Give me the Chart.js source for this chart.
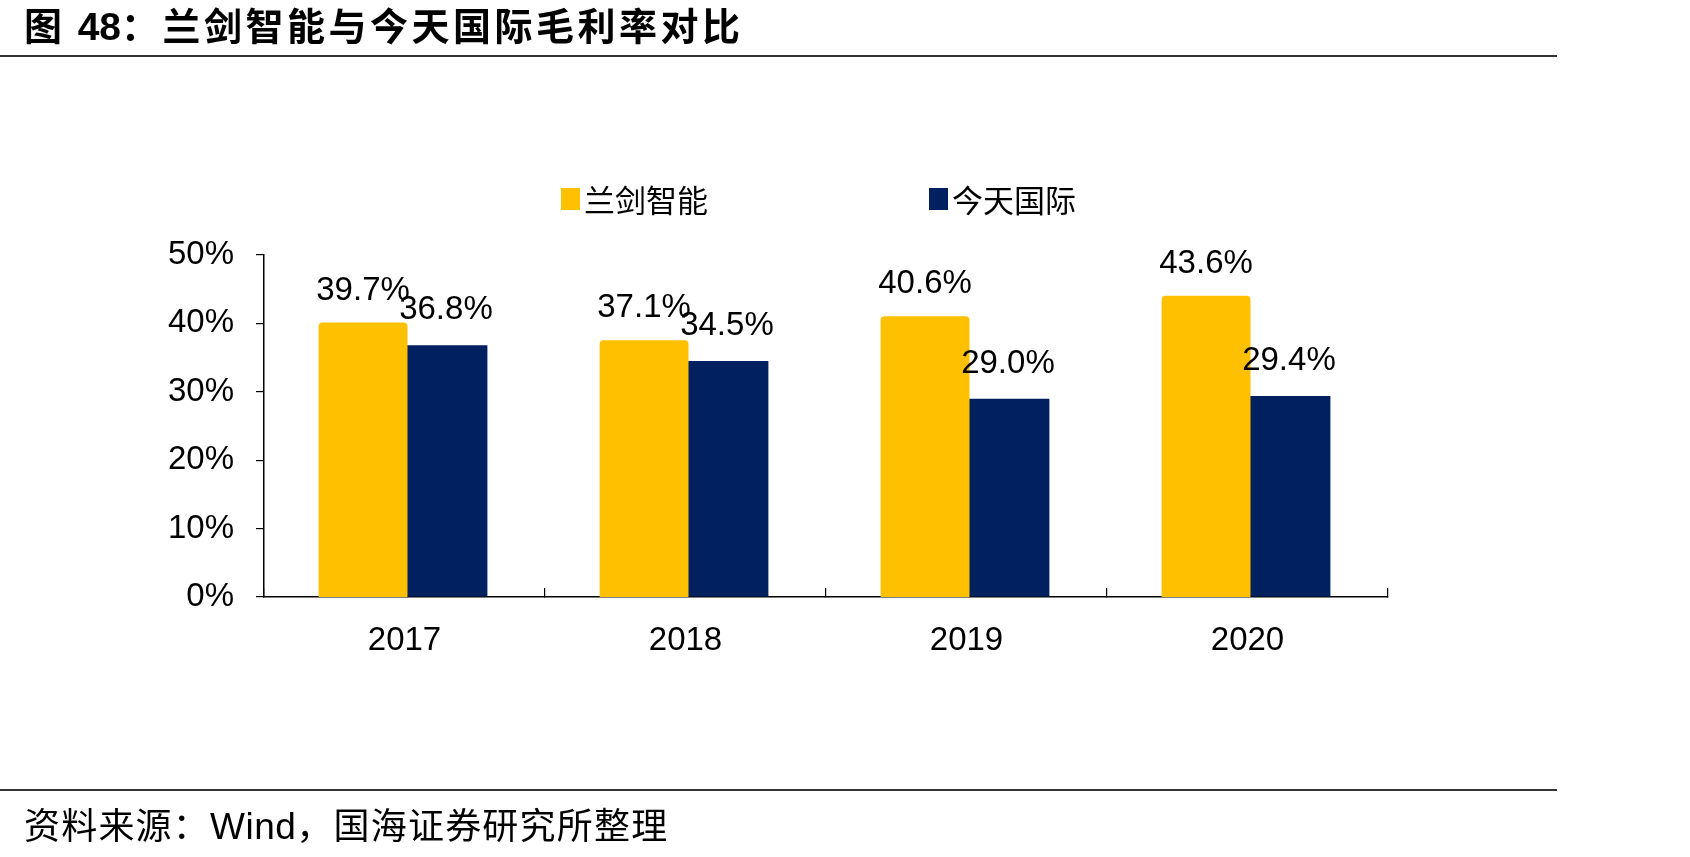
<!DOCTYPE html>
<html lang="zh">
<head>
<meta charset="UTF-8">
<title>兰剑智能与今天国际毛利率对比</title>
<style>
  html, body { margin: 0; padding: 0; background: #fff; }
  body { width: 1690px; height: 857px; position: relative; overflow: hidden; }
  #chart { position: absolute; left: 0; top: 0; }
  .title {
    position: absolute; left: 24px; top: 4px; line-height: 40px;
    font-family: "Noto Sans CJK SC", sans-serif; font-weight: 700; font-size: 38px;
    letter-spacing: 3.5px; color: #000; white-space: nowrap;
  }
  .title b { font-family: "Liberation Sans", Arial, sans-serif; font-weight: 700; letter-spacing: 0; font-size: 39px; }
  .rule { position: absolute; left: 0; width: 1557px; height: 2px; background: #333; }
  .source {
    position: absolute; left: 24px; top: 802px; line-height: 42px;
    font-family: "Noto Sans CJK SC", sans-serif; font-size: 36px; letter-spacing: 1.2px;
    color: #000; white-space: nowrap;
  }
  .source span { font-family: "Liberation Sans", Arial, sans-serif; font-size: 37px; letter-spacing: 0.5px; }
</style>
</head>
<body>
<canvas id="chart" width="1690" height="857"></canvas>
<div class="title">图 <b>48</b>：兰剑智能与今天国际毛利率对比</div>
<div class="rule" style="top:55px"></div>
<div class="rule" style="top:789px"></div>
<div class="source">资料来源：<span>Wind</span>，国海证券研究所整理</div>

<script src="https://cdn.jsdelivr.net/npm/chart.js"></script>
<script>
  const years = ['2017', '2018', '2019', '2020'];
  const lanjian = [39.7, 37.1, 40.6, 43.6];
  const jintian = [36.8, 34.5, 29.0, 29.4];
  const seriesNames = ['兰剑智能', '今天国际'];
  const yTicks = [0, 10, 20, 30, 40, 50];

  // numbers in the picture are a narrow sans; fall back if it is missing
  function hasFont(name) {
    const c = document.createElement('canvas').getContext('2d');
    c.font = '40px monospace';
    const a = c.measureText('50%abcW').width;
    c.font = '40px "' + name + '", monospace';
    return c.measureText('50%abcW').width !== a;
  }
  const narrow = hasFont('Liberation Sans Narrow');
  const numFont = narrow
    ? { family: '"Liberation Sans Narrow", "Liberation Sans", Arial', size: 40 }
    : { family: '"Liberation Sans", Arial', size: 33 };
  const cjkFont = '"Noto Sans CJK SC", sans-serif';

  const barLabels = {
    id: 'barLabels',
    afterDatasetsDraw(chart) {
      const ctx = chart.ctx;
      ctx.save();
      ctx.font = numFont.size + 'px ' + numFont.family;
      ctx.fillStyle = '#000';
      ctx.textAlign = 'center';
      ctx.textBaseline = 'middle';
      chart.data.datasets.forEach((ds, i) => {
        chart.getDatasetMeta(i).data.forEach((bar, j) => {
          ctx.fillText(ds.data[j].toFixed(1) + '%', bar.x, bar.y - 35);
        });
      });
      ctx.restore();
    }
  };

  const topLegend = {
    id: 'topLegend',
    afterDraw(chart) {
      const ctx = chart.ctx;
      ctx.save();
      ctx.font = '31px ' + cjkFont;
      ctx.textBaseline = 'middle';
      let x = 561;
      const cy = 199;
      chart.data.datasets.forEach((ds) => {
        ctx.fillStyle = ds.backgroundColor;
        ctx.fillRect(x, cy - 11, 19, 22);
        ctx.fillStyle = '#000';
        ctx.fillText(ds.label, x + 23, cy + 1);
        x += 23 + ctx.measureText(ds.label).width + 221;
      });
      ctx.restore();
    }
  };

  new Chart(document.getElementById('chart'), {
    type: 'bar',
    data: {
      labels: years,
      datasets: [
        { label: seriesNames[0], data: lanjian, backgroundColor: '#FFC000',
          inflateAmount: 3, borderRadius: 4, borderSkipped: false },
        { label: seriesNames[1], data: jintian, backgroundColor: '#002060' }
      ]
    },
    options: {
      responsive: false,
      animation: false,
      categoryPercentage: 0.59,
      barPercentage: 1.0,
      layout: { padding: { left: 0, right: 302, top: 255, bottom: 200 } },
      plugins: { legend: { display: false }, tooltip: { enabled: false } },
      scales: {
        x: {
          grid: { display: true, drawOnChartArea: false, tickLength: -9, color: '#000', lineWidth: 1.2 },
          border: { color: '#000', width: 1.5 },
          ticks: { color: '#000', font: numFont, padding: 33 },
          afterFit: (s) => { s.height = 60; }
        },
        y: {
          min: 0, max: 50,
          afterBuildTicks: (s) => { s.ticks = yTicks.map((v) => ({ value: v })); },
          grid: { drawOnChartArea: false, tickLength: 8, color: '#000', lineWidth: 1.2 },
          border: { color: '#000', width: 1.5 },
          ticks: { color: '#000', font: numFont, padding: 22, callback: (v) => v + '%' },
          afterFit: (s) => { s.width = 264; }
        }
      }
    },
    plugins: [barLabels, topLegend]
  });
</script>
</body>
</html>
